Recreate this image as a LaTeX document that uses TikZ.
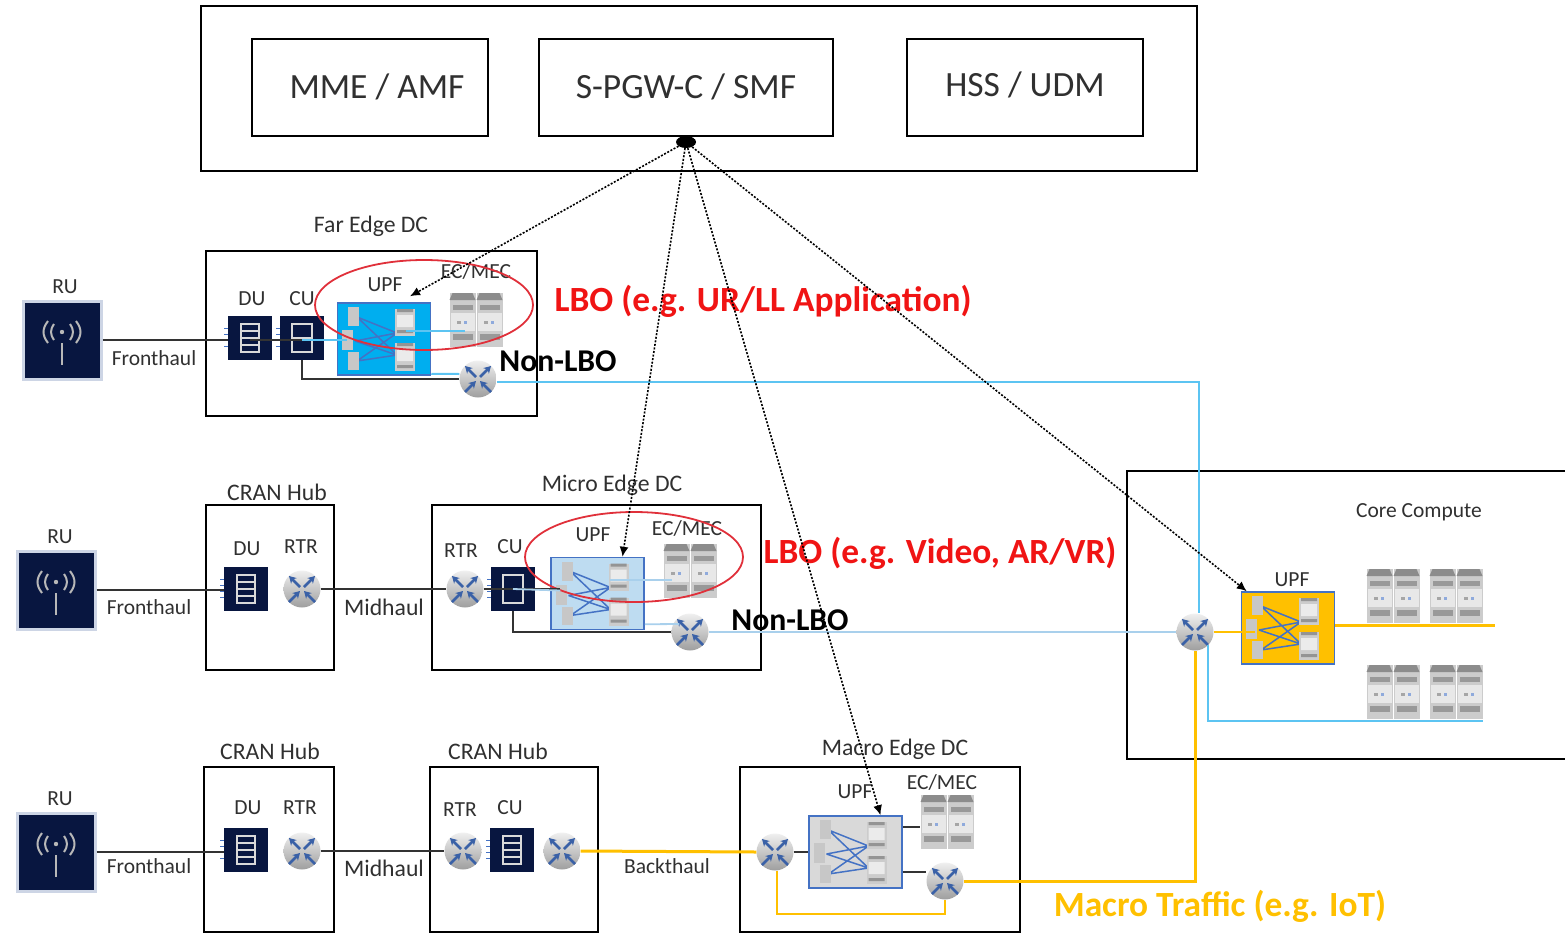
\documentclass[tikz,border=0pt]{standalone}
\usepackage{fontspec}
\setmainfont{Carlito}
\usetikzlibrary{arrows.meta,shapes.geometric}
\definecolor{navy}{HTML}{081640}
\definecolor{halo}{HTML}{CDD5E5}
\definecolor{cyanwire}{HTML}{5CC4F2}
\definecolor{cyanfill}{HTML}{00AEEF}
\definecolor{paleblue}{HTML}{A9D0EC}
\definecolor{amber}{HTML}{FFC000}
\definecolor{meshblue}{HTML}{4472C4}
\definecolor{inktext}{HTML}{303030}
\definecolor{lbored}{HTML}{F01414}
\definecolor{ovalred}{HTML}{E0303A}
\newcommand{\towerpair}{
  \begin{scope}[shift={(path picture bounding box.center)}]
    \foreach \tx in {-13.5,13.5} {
      \fill[black!20] (\tx-13,-27) rectangle (\tx+13,27);
      \fill[black!45] (\tx-10,-27) -- (\tx+10,-27) -- (\tx+13,-20) -- (\tx-13,-20) -- cycle;
      \fill[black!9] (\tx-12,-7) rectangle (\tx+12,11);
      \fill[black!40] (\tx-10,-15) rectangle (\tx+10,-10);
      \fill[black!40] (\tx-10,14) rectangle (\tx+10,20);
      \fill[meshblue!60] (\tx+1,1) rectangle (\tx+4,4);
      \fill[black!35] (\tx-6,1) rectangle (\tx-2,4);
      \draw[white] (\tx-13,-20) -- (\tx-13,27);
    }
  \end{scope}}
\newcommand{\upfmesh}{
  \begin{scope}[shift={(path picture bounding box.center)}]
    \draw[meshblue,line width=1.5pt] (-27,-22) -- (13,-6) (-27,-22) -- (13,16) (-29,2) -- (13,-6) (-29,2) -- (13,16) (-27,22) -- (13,-6) (-27,22) -- (13,16);
    \fill[black!22] (-36,-32) rectangle (-25,-13);
    \fill[black!22] (-42,-9) rectangle (-31,11);
    \fill[black!22] (-36,13) rectangle (-25,31);
    \fill[black!20] (11,-30) rectangle (31,-3);
    \fill[black!20] (11,4) rectangle (31,32);
    \fill[black!42] (13,-30) rectangle (29,-27) (13,4) rectangle (29,7) (13,-9) rectangle (29,-6) (13,26) rectangle (29,29);
    \fill[black!8] (13,-24) rectangle (29,-12) (13,10) rectangle (29,22);
  \end{scope}}
\tikzset{
  dc/.style={draw=black,line width=1.5pt,inner sep=0},
  txt/.style={text=inktext,font=\fontsize{21.5}{23}\selectfont,inner sep=0},
  dctxt/.style={text=inktext,font=\fontsize{23.7}{25}\selectfont,inner sep=0},
  bigtxt/.style={text=inktext,font=\fontsize{35.5}{38}\selectfont,inner sep=0},
  lbo/.style={text=lbored,font=\bfseries\fontsize{35.4}{38}\selectfont,inner sep=0},
  nonlbo/.style={text=black,font=\bfseries\fontsize{31.7}{34}\selectfont,inner sep=0},
  oval/.style={ellipse,draw=ovalred,line width=1.8pt,minimum width=218pt,minimum height=90pt,inner sep=0},
  rubox/.style={fill=navy,draw=halo,line width=3pt,minimum size=78pt,inner sep=0,
    path picture={
      \begin{scope}[shift={(path picture bounding box.center)},draw=black!28,line width=2pt]
        \fill[black!28] (0,-8) circle (2.2);
        \draw (-8,-16) .. controls (-12,-10) and (-12,-6) .. (-8,0);
        \draw (-14,-19) .. controls (-20,-11) and (-20,-5) .. (-14,3);
        \draw (8,-16) .. controls (12,-10) and (12,-6) .. (8,0);
        \draw (14,-19) .. controls (20,-11) and (20,-5) .. (14,3);
        \draw[line width=2.4pt] (0,3) -- (0,25);
      \end{scope}}},
  ports/.style={append after command={
    ([yshift=10pt]\tikzlastnode.west) edge[portline] ++(-4,0)
    ([yshift=4pt]\tikzlastnode.west) edge[portline] ++(-4,0)
    ([yshift=-2pt]\tikzlastnode.west) edge[portline] ++(-4,0)
    ([yshift=-8pt]\tikzlastnode.west) edge[portline] ++(-4,0)}},
  portline/.style={draw=meshblue,line width=0.8pt},
  dubox/.style={fill=navy,minimum size=44pt,inner sep=0,ports,
    path picture={
      \begin{scope}[shift={(path picture bounding box.center)},draw=white!85!black,line width=1.4pt]
        \draw (-9,-14) rectangle (9,14);
        \draw (-9,-7) -- (9,-7) (-9,0) -- (9,0) (-9,7) -- (9,7);
      \end{scope}}},
  cubox/.style={fill=navy,minimum size=44pt,inner sep=0,ports,
    path picture={
      \begin{scope}[shift={(path picture bounding box.center)},draw=white!85!black,line width=1.4pt]
        \draw (-10,-14) rectangle (10,14);
        \draw (-10,0) -- (10,0);
      \end{scope}}},
  rtr/.style={circle,minimum size=37pt,inner sep=0,top color=black!6,bottom color=black!38,
    path picture={
      \begin{scope}[shift={(path picture bounding box.center)},draw=meshblue!85!black,line width=2.6pt,-{Stealth[length=7pt,width=8pt]}]
        \draw (-2,-2) -- (-13,-13);
        \draw (2,-2) -- (13,-13);
        \draw (-13,13) -- (-2,2);
        \draw (13,13) -- (2,2);
      \end{scope}}},
  srv/.style={minimum width=54pt,minimum height=54pt,inner sep=0,path picture={\towerpair}},
  upf/.style={draw=meshblue,line width=1.5pt,minimum width=93pt,minimum height=72pt,inner sep=0,fill=#1,path picture={\upfmesh}},
  wire/.style={draw=black!80,line width=1.5pt},
  cyanw/.style={draw=cyanwire,line width=2pt},
  palew/.style={draw=paleblue,line width=1.8pt},
  amberw/.style={draw=amber,line width=3pt},
  amberthin/.style={draw=amber,line width=2pt},
  ctrl/.style={draw=black,line width=1.6pt,dash pattern=on 2pt off 1.6pt,-{Latex[length=10pt,width=9pt]}}
}
\begin{document}
\begin{tikzpicture}[x=1pt,y=-1pt]
  \useasboundingbox (0,0) rectangle (1565,937);
  \node[dc,minimum width=996pt,minimum height=165pt] (top) at (699,88.5) {};
  \node[dc,minimum width=236pt,minimum height=97pt] (mme) at (370,87.5) {};
  \node[bigtxt] (mmetxt) at (377,87) {MME / AMF};
  \node[dc,minimum width=294pt,minimum height=97pt] (smf) at (686,87.5) {};
  \node[bigtxt] (smftxt) at (686,87) {S-PGW-C / SMF};
  \node[dc,minimum width=236pt,minimum height=97pt] (udm) at (1025,87.5) {};
  \node[bigtxt] (udmtxt) at (1025,85) {HSS / UDM};
  \node[ellipse,fill=black,minimum width=20pt,minimum height=12pt,inner sep=0] (dot) at (686,142) {};

  \node[dc,minimum width=331pt,minimum height=165pt] (far) at (371.5,333.5) {};
  \node[dctxt] (fartxt) at (371,226) {Far Edge DC};
  \node[dc,minimum width=128pt,minimum height=165pt] (hub2) at (270,587.5) {};
  \node[dctxt] (hub2txt) at (277,492) {CRAN Hub};
  \node[dc,minimum width=329pt,minimum height=165pt] (micro) at (596.5,587.5) {};
  \node[dctxt] (microtxt) at (612,485) {Micro Edge DC};
  \node[dc,minimum width=130pt,minimum height=165pt] (hub3) at (269,849.5) {};
  \node[dctxt] (hub3txt) at (270,751) {CRAN Hub};
  \node[dc,minimum width=168pt,minimum height=165pt] (hub4) at (514,849.5) {};
  \node[dctxt] (hub4txt) at (498,751) {CRAN Hub};
  \node[dc,minimum width=280pt,minimum height=165pt] (macro) at (880,849.5) {};
  \node[dctxt] (macrotxt) at (895,749) {Macro Edge DC};
  \coordinate (corea) at (1565,471);
  \coordinate (coreb) at (1127,471);
  \coordinate (corec) at (1127,759);
  \coordinate (cored) at (1565,759);
  \draw[wire,draw=black] (corea) to (coreb) to (corec) to (cored);
  \node[txt] (coretxt) at (1419,512) {Core Compute};

  \node[rubox] (ru1) at (62,340) {};
  \node[txt] (ru1txt) at (65,287) {RU};
  \node[dubox] (du1) at (250,338) {};
  \node[txt] (du1txt) at (252,299) {DU};
  \node[cubox] (cu1) at (302,338) {};
  \node[txt] (cu1txt) at (302,299) {CU};
  \node[upf=cyanfill] (upf1) at (384,339) {};
  \node[txt] (upf1txt) at (385,285) {UPF};
  \node[srv] (srv1) at (476,320) {};
  \node[txt] (srv1txt) at (476,271) {EC/MEC};
  \node[rtr] (rtr1) at (478,379) {};
  \node[oval] (oval1) at (424,305) {};
  \node[lbo] (lbo1) at (763,301) {LBO (e.g. UR/LL Application)};
  \node[nonlbo] (non1) at (558,361) {Non-LBO};
  \node[txt] (fh1) at (154,358) {Fronthaul};

  \node[rubox] (ru2) at (56,590) {};
  \node[txt] (ru2txt) at (60,537) {RU};
  \node[dubox] (du2) at (246,589) {};
  \node[txt] (du2txt) at (247,549) {DU};
  \node[rtr] (rtr2a) at (302,589) {};
  \node[txt] (rtr2atxt) at (301,547) {RTR};
  \node[rtr] (rtr2b) at (465,589) {};
  \node[txt] (rtr2btxt) at (461,551) {RTR};
  \node[cubox] (cu2) at (513,589) {};
  \node[txt] (cu2txt) at (510,547) {CU};
  \node[upf=paleblue!75!white] (upf2) at (597.5,593.5) {};
  \node[txt] (upf2txt) at (593,535) {UPF};
  \node[srv] (srv2) at (690,571) {};
  \node[txt] (srv2txt) at (687,528) {EC/MEC};
  \node[rtr] (rtr2) at (690,632) {};
  \node[oval] (oval2) at (634,557) {};
  \node[lbo] (lbo2) at (940,553) {LBO (e.g. Video, AR/VR)};
  \node[nonlbo] (non2) at (790,620) {Non-LBO};
  \node[txt] (fh2) at (149,607) {Fronthaul};
  \node[dctxt] (mh2) at (384,607) {Midhaul};

  \node[rubox] (ru3) at (56,852) {};
  \node[txt] (ru3txt) at (60,799) {RU};
  \node[dubox] (du3) at (246,850) {};
  \node[txt] (du3txt) at (248,808) {DU};
  \node[rtr] (rtr3a) at (302,851) {};
  \node[txt] (rtr3atxt) at (300,808) {RTR};
  \node[rtr] (rtr3b) at (463,851) {};
  \node[txt] (rtr3btxt) at (460,810) {RTR};
  \node[dubox] (cu3) at (512,850) {};
  \node[txt] (cu3txt) at (510,808) {CU};
  \node[rtr] (rtr3c) at (562,851) {};
  \node[rtr] (rtr3d) at (775,852) {};
  \node[upf=black!15] (upf3) at (855.5,852) {};
  \node[txt] (upf3txt) at (855,792) {UPF};
  \node[srv] (srv3) at (947,822) {};
  \node[txt] (srv3txt) at (942,782) {EC/MEC};
  \node[rtr] (rtr3e) at (945,881) {};
  \node[txt] (fh3) at (149,866) {Fronthaul};
  \node[dctxt] (mh3) at (384,868) {Midhaul};
  \node[txt] (bh3) at (667,866) {Backthaul};
  \node[lbo,text=amber] (macrotraffic) at (1220,906) {Macro Traffic (e.g. IoT)};
  \coordinate (loopturn) at (860,914);

  \node[rtr] (rtrc) at (1195,632) {};
  \node[upf=amber] (upfc) at (1288,628) {};
  \node[txt] (upfctxt) at (1292,580) {UPF};
  \node[srv] (srvc1) at (1393,596) {};
  \node[srv] (srvc2) at (1456,596) {};
  \node[srv] (srvc3) at (1393,692) {};
  \node[srv] (srvc4) at (1456,692) {};
  \coordinate (feedend) at (1495,625);

  \begin{scope}[-]
    \draw[wire] (ru1.east) to (ru1.east -| du1.west);
    \draw[wire] ([yshift=-2pt]du1.center) to ([xshift=10pt,yshift=-1pt]upf1.west);
    \draw[cyanw] ([yshift=-2pt]cu1.center) to ([xshift=10pt,yshift=-1pt]upf1.west);
    \draw[wire] (upf1.east |- 0,331) to (srv1.west |- 0,331);
    \draw[cyanw] ([xshift=-25pt,yshift=8pt]upf1.east) to ([xshift=16pt,yshift=-11pt]srv1.west);
    \draw[wire] (cu1.south) |- (rtr1.west);
    \draw[cyanw] ([yshift=2pt]upf1.south east) to ([yshift=5pt]rtr1.west);
    \draw[cyanw] ([yshift=-3pt]rtr1.east) -| ([xshift=4pt]rtrc.north);

    \draw[wire] (ru2.east) to (ru2.east -| du2.west);
    \draw[wire] (rtr2a.east) to (rtr2b.west);
    \draw[wire] (rtr2b.east) to ([xshift=10pt,yshift=4.5pt]upf2.west);
    \draw[palew] (cu2.center) to ([xshift=10pt,yshift=3pt]upf2.west);
    \draw[palew] ([xshift=-35pt,yshift=13.5pt]upf2.east) to ([xshift=9pt,yshift=-9pt]srv2.west);
    \draw[wire] (cu2.south) |- (rtr2.west);
    \draw[palew] ([yshift=6pt]upf2.south east) to ([yshift=8pt,xshift=8pt]rtr2.west);
    \draw[palew] (rtr2.east) to (rtrc.west);

    \draw[wire] (ru3.east) to (ru3.east -| du3.west);
    \draw[wire] (rtr3a.east) to (rtr3b.west);
    \draw[amberw] (rtr3c.east) to (rtr3d.west);
    \draw[wire] (rtr3d.east) to (upf3.west);
    \draw[wire] (upf3.east |- srv3.center) ++(0,5) to ([yshift=-5pt]srv3.west);
    \draw[wire] ([yshift=-20pt]upf3.east) to ([yshift=9pt]rtr3e.west);
    \draw[amberthin] ([xshift=2pt]rtr3d.south) |- (loopturn) -| (rtr3e.south);
    \draw[amberw] (rtr3e.east) -| (rtrc.south);

    \draw[cyanw] (rtrc.south east) |- ([yshift=-2pt]srvc4.south east);
    \draw[amberthin] (rtrc.east) to ([xshift=14pt]rtrc.east -| upfc.west);
    \draw[amberw] ([yshift=3pt]upfc.east) to (feedend);
  \end{scope}

  \draw[ctrl] (dot) to ([xshift=26pt,yshift=6pt]upf1.north);
  \draw[ctrl] (dot) to ([xshift=25pt]upf2.north);
  \draw[ctrl] (dot) to ([xshift=25pt]upf3.north);
  \draw[ctrl] (dot) to ([xshift=6pt]upfc.north west);
\end{tikzpicture}
\end{document}
